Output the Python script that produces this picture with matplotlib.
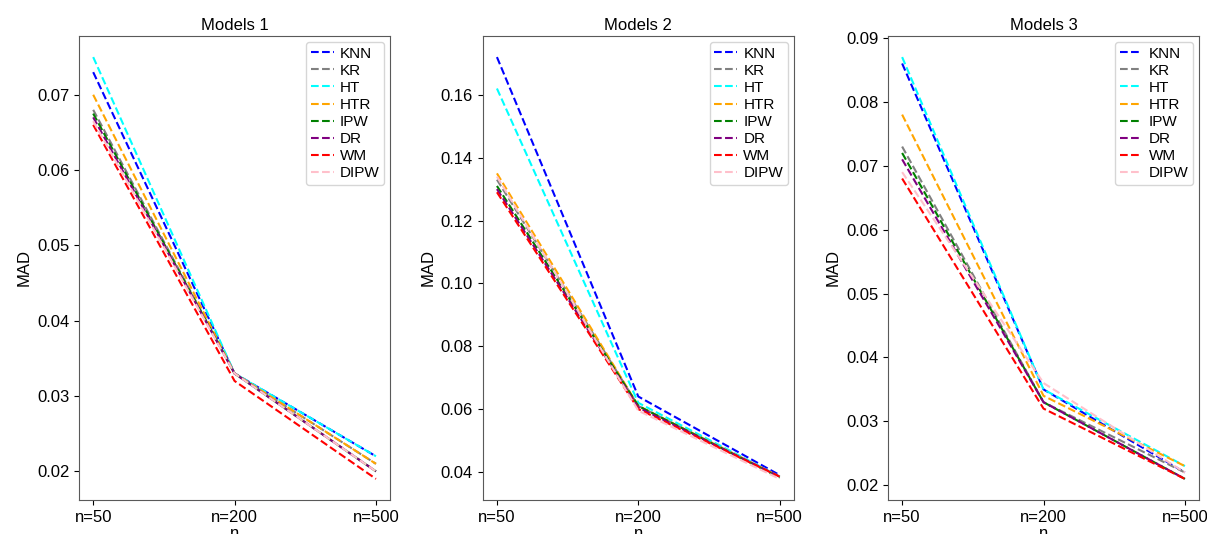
import matplotlib
matplotlib.use("Agg")
import matplotlib.pyplot as plt

plt.rcParams['font.family'] = ['Liberation Sans', 'DejaVu Sans']

sizes = ['n=50', 'n=200', 'n=500']
methods = ['KNN', 'KR', 'HT', 'HTR', 'IPW', 'DR', 'WM', 'DIPW']
colors = ['blue', 'gray', 'cyan', 'orange', 'green', 'purple', 'red', 'pink']

# MAD values per method, per model
models1 = {
    'KNN': [0.073, 0.033, 0.022],
    'KR': [0.068, 0.033, 0.021],
    'HT': [0.075, 0.033, 0.022],
    'HTR': [0.070, 0.033, 0.021],
    'IPW': [0.0675, 0.033, 0.020],
    'DR': [0.067, 0.033, 0.020],
    'WM': [0.066, 0.032, 0.019],
    'DIPW': [0.0665, 0.033, 0.020],
}
models2 = {
    'KNN': [0.172, 0.064, 0.039],
    'KR': [0.133, 0.061, 0.0385],
    'HT': [0.162, 0.062, 0.0385],
    'HTR': [0.135, 0.061, 0.0385],
    'IPW': [0.131, 0.061, 0.0382],
    'DR': [0.130, 0.0605, 0.0385],
    'WM': [0.129, 0.060, 0.0385],
    'DIPW': [0.134, 0.0595, 0.0378],
}
models3 = {
    'KNN': [0.086, 0.035, 0.022],
    'KR': [0.073, 0.033, 0.022],
    'HT': [0.087, 0.035, 0.023],
    'HTR': [0.078, 0.034, 0.023],
    'IPW': [0.072, 0.033, 0.021],
    'DR': [0.071, 0.033, 0.021],
    'WM': [0.068, 0.032, 0.021],
    'DIPW': [0.069, 0.036, 0.022],
}
titles = ['Models 1', 'Models 2', 'Models 3']

fig = plt.figure(figsize=(12.07, 5.34), dpi=100)
lefts = [0.0655, 0.400, 0.7357]
axes = [fig.add_axes([l, 0.0637, 0.2577, 0.8689]) for l in lefts]

for ax, data, title in zip(axes, [models1, models2, models3], titles):
    for m, c in zip(methods, colors):
        ax.plot(sizes, data[m], linestyle='--', color=c, linewidth=1.5, label=m)
    ax.set_title(title, fontsize=12, pad=4)
    ax.set_xlabel('n', fontsize=12, labelpad=1)
    ax.set_ylabel('MAD', fontsize=12)
    ax.tick_params(labelsize=12)
    for s in ax.spines.values():
        s.set_edgecolor('0.35')
    ax.legend(loc='upper right', fontsize=11, handlelength=1.5,
              handletextpad=0.4, labelspacing=0.2, borderpad=0.3,
              borderaxespad=0.4)

fig.savefig('out.png', dpi=100)
